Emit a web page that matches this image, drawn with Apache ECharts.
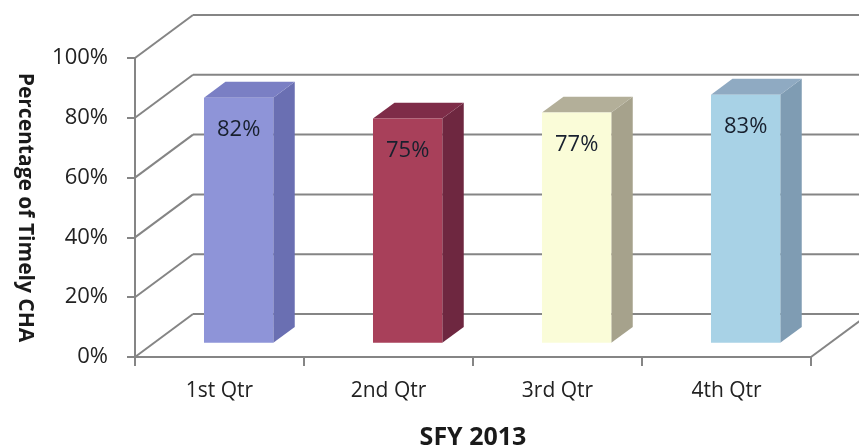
<!DOCTYPE html>
<html>
<head>
<meta charset="utf-8">
<script src="https://cdn.jsdelivr.net/npm/echarts@6/dist/echarts.min.js"></script>
<style>
html,body{margin:0;padding:0;background:#fff;}
#chart{width:859px;height:447px;}
</style>
</head>
<body>
<div id="chart"></div>
<script>
var categories = ['1st Qtr', '2nd Qtr', '3rd Qtr', '4th Qtr'];
var values = [82, 75, 77, 83];
var tickValues = [0, 20, 40, 60, 80, 100];
var yAxisTitle = 'Percentage of Timely CHA';
var xAxisTitle = 'SFY 2013';

var frontColors = ['#8e94d8', '#a8405a', '#fafcd8', '#a8d2e6'];
var topColors = ['#7a7fc4', '#7e2c48', '#b3af99', '#8faac2'];
var sideColors = ['#6a6fb2', '#6e2740', '#a6a28c', '#7f9cb3'];

var DX = 58, DY = -43;           // wall depth offset
var T1 = 0.33, T2 = 0.70;         // bar depth start/end (fraction of wall depth)
var BAR_FRAC = 0.41;              // bar width relative to category band
var LINE = '#858585';
var FONT = '"Open Sans", "Noto Sans", sans-serif';

var chart = echarts.init(document.getElementById('chart'));

function wallItem(params, api) {
  var cs = params.coordSys;
  var v = api.value(0);
  var p = api.coord([0, v]);
  var y = p[1];
  var x0 = cs.x, x1 = cs.x + cs.width;
  var style = { stroke: LINE, lineWidth: 2, fill: null };
  var children = [
    { type: 'line', shape: { x1: x0, y1: y, x2: x0 + DX, y2: y + DY }, style: style },
    { type: 'line', shape: { x1: x0 + DX, y1: y + DY, x2: x1 + DX + 20, y2: y + DY }, style: style }
  ];
  if (v === 0) {
    children.push({ type: 'line', shape: { x1: x1, y1: y, x2: x1 + DX, y2: y + DY }, style: style });
  }
  return { type: 'group', children: children };
}

function barItem(params, api) {
  var idx = api.value(0);
  var val = api.value(1);
  var base = api.coord([idx, 0]);
  var top = api.coord([idx, val]);
  var band = api.size([1, 0])[0];
  var w = band * BAR_FRAC;
  var ox = DX * T1, oy = DY * T1;
  var bx = DX * (T2 - T1), by = DY * (T2 - T1);
  var l = base[0] - w / 2 + ox, r = base[0] + w / 2 + ox;
  var b = base[1] + oy, t = top[1] + oy;
  var i = params.dataIndex;
  return {
    type: 'group',
    children: [
      { type: 'polygon', shape: { points: [[r, b], [r + bx, b + by], [r + bx, t + by], [r, t]] },
        style: { fill: sideColors[i] } },
      { type: 'polygon', shape: { points: [[l, t], [l + bx, t + by], [r + bx, t + by], [r, t]] },
        style: { fill: topColors[i] } },
      { type: 'rect', shape: { x: l, y: t, width: r - l, height: b - t },
        style: { fill: frontColors[i] } },
      { type: 'text', x: (l + r) / 2, y: t + 32,
        style: { text: val + '%', fill: '#18202e', font: '22px ' + FONT, align: 'center', verticalAlign: 'middle' } }
    ]
  };
}

chart.setOption({
  animation: false,
  backgroundColor: '#ffffff',
  grid: { left: 135, right: 48, top: 58, bottom: 90, outerBoundsMode: 'none', containLabel: false },
  xAxis: {
    type: 'category',
    data: categories,
    boundaryGap: true,
    axisLine: { show: true, lineStyle: { color: LINE, width: 2 } },
    axisTick: { show: true, length: 9, lineStyle: { color: LINE, width: 2 } },
    axisLabel: { color: '#222', fontSize: 21, fontFamily: FONT, margin: 24 },
    name: xAxisTitle,
    nameLocation: 'middle',
    nameGap: 68,
    nameTextStyle: { color: '#1a1a1a', fontSize: 25, fontWeight: 'bold', fontFamily: FONT }
  },
  yAxis: {
    type: 'value',
    min: 0, max: 100, interval: 20,
    axisLine: { show: true, lineStyle: { color: LINE, width: 2 } },
    axisTick: { show: true, length: 8, lineStyle: { color: LINE, width: 2 } },
    splitLine: { show: false },
    axisLabel: { color: '#222', fontSize: 22, fontFamily: FONT, margin: 27, formatter: '{value}%' },
    name: yAxisTitle,
    nameLocation: 'middle',
    nameRotate: -90,
    nameGap: 100,
    nameTextStyle: { color: '#1a1a1a', fontSize: 21, fontWeight: 'bold', fontFamily: FONT }
  },
  series: [
    {
      type: 'custom',
      name: 'walls',
      renderItem: wallItem,
      data: tickValues.map(function (v) { return [v]; }),
      encode: { y: 0 },
      silent: true,
      z: 1
    },
    {
      type: 'custom',
      name: 'bars',
      renderItem: barItem,
      data: values.map(function (v, i) { return [i, v]; }),
      encode: { x: 0, y: 1 },
      z: 2
    }
  ]
});
</script>
</body>
</html>
